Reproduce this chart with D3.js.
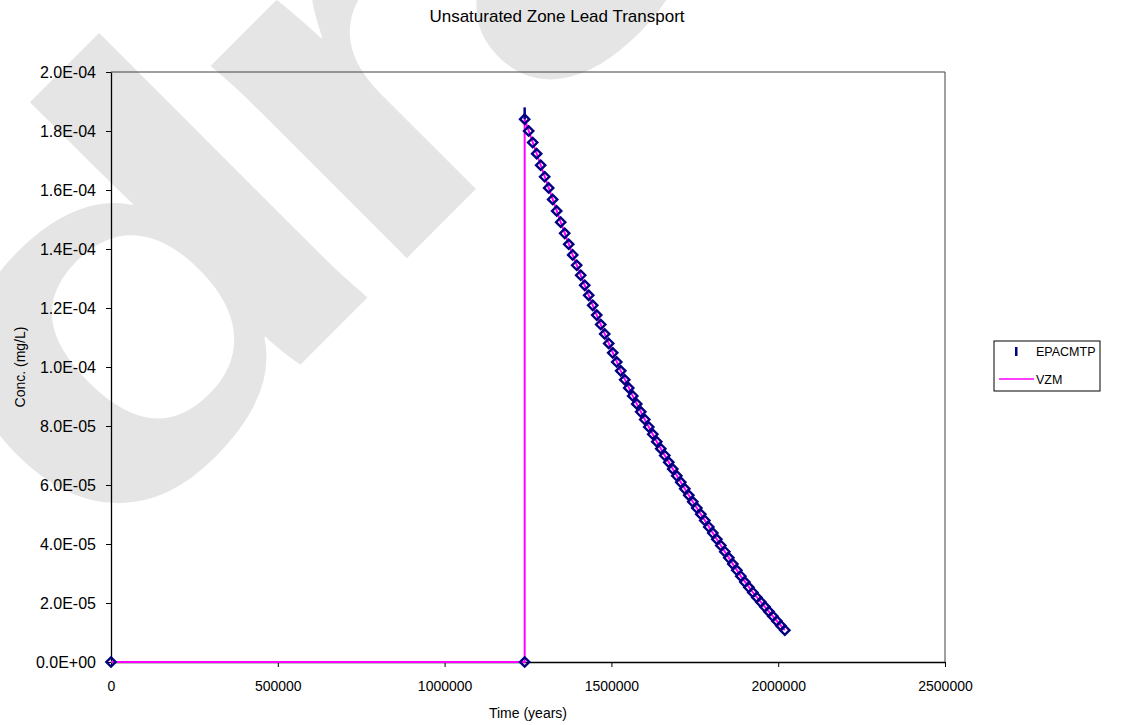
<!DOCTYPE html>
<html>
<head>
<meta charset="utf-8">
<script src="https://cdn.jsdelivr.net/npm/d3@7"></script>
<style>
  body { margin: 0; background: #fff; }
  svg { display: block; font-family: "Liberation Sans", Arial, sans-serif; }
</style>
</head>
<body>
<svg id="chart" width="1129" height="725"></svg>
<script>
// chart text
const chartTitle = "Unsaturated Zone Lead Transport";
const xTitle = "Time (years)";
const yTitle = "Conc. (mg/L)";
const seriesNames = ["EPACMTP", "VZM"];
const watermark = "draft";

// axis ticks
const xTicks = [0, 500000, 1000000, 1500000, 2000000, 2500000];
const yTicks = [0, 2e-5, 4e-5, 6e-5, 8e-5, 1e-4, 1.2e-4, 1.4e-4, 1.6e-4, 1.8e-4, 2e-4];

// EPACMTP (markers only)
const epaTime = [0, 1240000,
  1240000, 1252000, 1264000, 1276000, 1288000, 1300000, 1312000, 1324000, 1336000, 1348000,
  1360000, 1372000, 1384000, 1396000, 1408000, 1420000, 1432000, 1444000, 1456000, 1468000,
  1480000, 1492000, 1504000, 1516000, 1528000, 1540000, 1552000, 1564000, 1576000, 1588000,
  1600000, 1612000, 1624000, 1636000, 1648000, 1660000, 1672000, 1684000, 1696000, 1708000,
  1720000, 1732000, 1744000, 1756000, 1768000, 1780000, 1792000, 1804000, 1816000, 1828000,
  1840000, 1852000, 1864000, 1876000, 1888000, 1900000, 1912000, 1924000, 1936000, 1948000,
  1960000, 1972000, 1984000, 1996000, 2008000, 2020000];
const epaConc = [0, 0,
  18.40e-5, 18.00e-5, 17.61e-5, 17.23e-5, 16.84e-5, 16.45e-5, 16.07e-5, 15.68e-5, 15.29e-5, 14.91e-5,
  14.53e-5, 14.16e-5, 13.80e-5, 13.45e-5, 13.11e-5, 12.77e-5, 12.43e-5, 12.09e-5, 11.76e-5, 11.44e-5,
  11.12e-5, 10.80e-5, 10.48e-5, 10.17e-5, 9.87e-5, 9.57e-5, 9.29e-5, 9.02e-5, 8.75e-5, 8.48e-5,
  8.22e-5, 7.97e-5, 7.72e-5, 7.47e-5, 7.23e-5, 7.00e-5, 6.77e-5, 6.54e-5, 6.31e-5, 6.09e-5,
  5.87e-5, 5.65e-5, 5.43e-5, 5.22e-5, 5.01e-5, 4.80e-5, 4.58e-5, 4.37e-5, 4.16e-5, 3.95e-5,
  3.74e-5, 3.53e-5, 3.32e-5, 3.11e-5, 2.91e-5, 2.71e-5, 2.53e-5, 2.36e-5, 2.19e-5, 2.03e-5,
  1.87e-5, 1.71e-5, 1.55e-5, 1.39e-5, 1.23e-5, 1.08e-5];

// VZM (line only)
const vzmTime = [0, 1240000, 1240000, 1276000, 1312000, 1348000, 1384000, 1420000, 1456000, 1492000,
  1528000, 1564000, 1600000, 1636000, 1672000, 1708000, 1744000, 1780000, 1816000, 1852000,
  1888000, 1924000, 1960000, 1996000, 2020000];
const vzmConc = [0, 0, 18.40e-5, 17.23e-5, 16.07e-5, 14.91e-5, 13.80e-5, 12.77e-5, 11.76e-5, 10.80e-5,
  9.87e-5, 9.02e-5, 8.22e-5, 7.47e-5, 6.77e-5, 6.09e-5, 5.43e-5, 4.80e-5, 4.16e-5, 3.53e-5,
  2.91e-5, 2.36e-5, 1.87e-5, 1.39e-5, 1.08e-5];

const navy = "#000080";
const magenta = "#ff00ff";

const svg = d3.select("#chart");

// plot area
const plotLeft = 111, plotRight = 945, plotTop = 72, plotBottom = 662;

const x = d3.scaleLinear().domain([0, 2500000]).range([plotLeft, plotRight]);
const y = d3.scaleLinear().domain([0, 2e-4]).range([plotBottom, plotTop]);

// background watermark (stretched, diagonal)
svg.append("text")
  .attr("transform", "translate(93,572) rotate(-45) scale(1.37,1)")
  .attr("font-size", 520)
  .attr("font-weight", "bold")
  .attr("letter-spacing", -30)
  .attr("fill", "#e5e5e5")
  .text(watermark);

// title
svg.append("text")
  .attr("x", 557).attr("y", 22)
  .attr("text-anchor", "middle")
  .attr("font-size", 17)
  .text(chartTitle);

// plot area frame (top + right)
svg.append("path")
  .attr("d", `M${plotLeft},${plotTop}H${plotRight}V${plotBottom}`)
  .attr("fill", "none")
  .attr("stroke", "#404040")
  .attr("stroke-width", 1);

// y format like 2.0E-04
function sciFormat(d) {
  if (d === 0) return "0.0E+00";
  const exp = Math.floor(Math.log10(Math.abs(d)) + 1e-9);
  const mant = d / Math.pow(10, exp);
  const sign = exp < 0 ? "-" : "+";
  return mant.toFixed(1) + "E" + sign + String(Math.abs(exp)).padStart(2, "0");
}

const yAxis = svg.append("g")
  .attr("transform", `translate(${plotLeft},0)`)
  .call(d3.axisLeft(y).tickValues(yTicks).tickFormat(sciFormat).tickSize(5).tickSizeOuter(0).tickPadding(10));

const xAxis = svg.append("g")
  .attr("transform", `translate(0,${plotBottom})`)
  .call(d3.axisBottom(x).tickValues(xTicks).tickFormat(d3.format("d")).tickSize(5).tickSizeOuter(0).tickPadding(14));

yAxis.attr("font-family", null);
xAxis.attr("font-family", null);
yAxis.selectAll("text").attr("font-size", 16).attr("fill", "#000");
xAxis.selectAll("text").attr("font-size", 14).attr("fill", "#000");
svg.selectAll(".domain").attr("stroke", "#000").attr("stroke-width", 1.3);
svg.selectAll(".tick line").attr("stroke", "#000");

// axis titles
svg.append("text")
  .attr("x", 528).attr("y", 718)
  .attr("text-anchor", "middle")
  .attr("font-size", 14)
  .text(xTitle);

svg.append("text")
  .attr("transform", `translate(25,${(plotTop + plotBottom) / 2}) rotate(-90)`)
  .attr("text-anchor", "middle")
  .attr("font-size", 14)
  .text(yTitle);

// VZM line
const vzmData = vzmTime.map((t, i) => [t, vzmConc[i]]);
const line = d3.line().x(d => x(d[0])).y(d => y(d[1]));
svg.append("path")
  .datum(vzmData)
  .attr("d", line)
  .attr("fill", "none")
  .attr("stroke", magenta)
  .attr("stroke-width", 2);

// EPACMTP diamonds
const epaData = epaTime.map((t, i) => [t, epaConc[i]]);
const diamond = d3.symbol().type(d3.symbolDiamond2).size(55);
svg.append("g")
  .selectAll("path")
  .data(epaData)
  .join("path")
  .attr("transform", d => `translate(${x(d[0])},${y(d[1])})`)
  .attr("d", diamond)
  .attr("fill", "none")
  .attr("stroke", navy)
  .attr("stroke-width", 2.4);

// small vertical jump mark at the breakthrough time
svg.append("line")
  .attr("x1", x(epaTime[2])).attr("x2", x(epaTime[2]))
  .attr("y1", y(18.8e-5)).attr("y2", y(epaConc[2]))
  .attr("stroke", navy).attr("stroke-width", 2.5);

// legend
const legend = svg.append("g").attr("transform", "translate(994,341)");
legend.append("rect")
  .attr("width", 106).attr("height", 50)
  .attr("fill", "#fff")
  .attr("stroke", "#000");
legend.append("rect")
  .attr("x", 21).attr("y", 6).attr("width", 2.5).attr("height", 9)
  .attr("fill", navy);
legend.append("line")
  .attr("x1", 5).attr("x2", 40).attr("y1", 38).attr("y2", 38)
  .attr("stroke", magenta).attr("stroke-width", 1.5);
legend.selectAll("text.lab")
  .data(seriesNames)
  .join("text")
  .attr("class", "lab")
  .attr("x", 42)
  .attr("y", (d, i) => 15 + i * 28)
  .attr("font-size", 12.5)
  .text(d => d);
</script>
</body>
</html>
